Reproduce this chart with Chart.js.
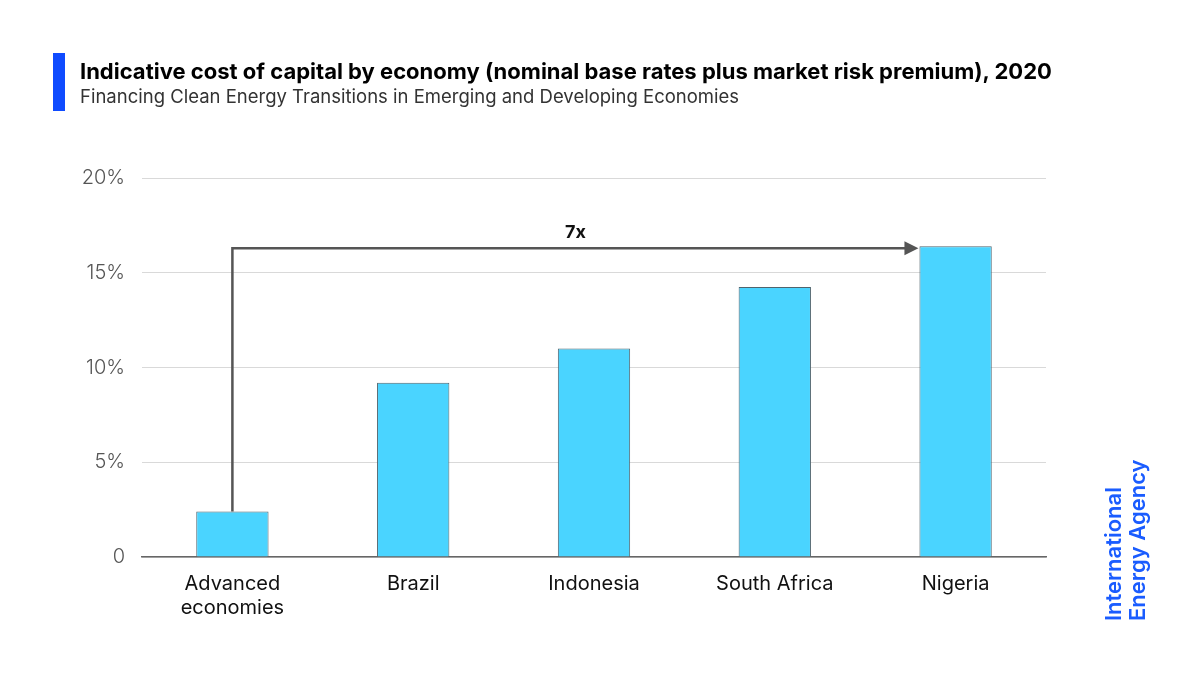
<!DOCTYPE html>
<html>
<head>
<meta charset="utf-8">
<script src="https://cdn.jsdelivr.net/npm/chart.js@4.4.1/dist/chart.umd.min.js"></script>
<style>
    html, body { margin: 0; padding: 0; background: #fff; }
    #wrap { position: relative; width: 1200px; height: 675px; overflow: hidden; }
    #chart { position: absolute; left: 0; top: 0; }
    .accent { position: absolute; left: 53px; top: 53px; width: 12px; height: 58px; background: #0f4bff; }
    .title { position: absolute; left: 80px; top: 58px; font: 700 22px 'Inter', sans-serif; color: #000; white-space: nowrap; }
    .subtitle { position: absolute; left: 80px; top: 85px; font: 400 18.5px 'Inter', sans-serif; color: #333; white-space: nowrap; }
    .logo { position: absolute; left: 1101px; top: 621px; transform: rotate(-90deg); transform-origin: 0 0;
            font: 600 22px 'Inter', sans-serif; color: #1a5cff; line-height: 24px; white-space: nowrap; }
</style>
</head>
<body>
<div id="wrap">
    <canvas id="chart" width="1200" height="675"></canvas>
    <div class="accent"></div>
    <div class="title">Indicative cost of capital by economy (nominal base rates plus market risk premium), 2020</div>
    <div class="subtitle">Financing Clean Energy Transitions in Emerging and Developing Economies</div>
    <div class="logo">International<br>Energy Agency</div>
</div>
<script>
// Chart data
const categories = [['Advanced', 'economies'], 'Brazil', 'Indonesia', 'South Africa', 'Nigeria'];
const costOfCapital = [2.4, 9.2, 11.0, 14.25, 16.4];
const yTicks = [0, 5, 10, 15, 20];
const arrowLabel = '7x';

/**
 * Draws the "7x" elbow arrow from the first bar to the last one
 */
const arrowPlugin = {
    id: 'ratioArrow',
    afterDatasetsDraw(chart) {
        const meta = chart.getDatasetMeta(0);
        const first = meta.data[0];
        const last = meta.data[meta.data.length - 1];
        const yScale = chart.scales.y;
        const ctx = chart.ctx;

        const lineY = yScale.getPixelForValue(costOfCapital[costOfCapital.length - 1]) + 2;
        const tipX = last.x - last.width / 2 - 1;

        ctx.save();
        ctx.strokeStyle = '#555555';
        ctx.fillStyle = '#555555';
        ctx.lineWidth = 2.5;
        ctx.beginPath();
        ctx.moveTo(first.x, first.y);
        ctx.lineTo(first.x, lineY);
        ctx.lineTo(tipX - 12, lineY);
        ctx.stroke();

        // arrow head
        ctx.beginPath();
        ctx.moveTo(tipX, lineY);
        ctx.lineTo(tipX - 14, lineY - 7);
        ctx.lineTo(tipX - 14, lineY + 7);
        ctx.closePath();
        ctx.fill();

        // label
        ctx.fillStyle = '#111111';
        ctx.font = "700 18px 'Inter', sans-serif";
        ctx.textAlign = 'center';
        ctx.textBaseline = 'bottom';
        ctx.fillText(arrowLabel, (first.x + tipX) / 2, lineY - 7);
        ctx.restore();
    }
};

document.addEventListener('DOMContentLoaded', () => {
    Chart.defaults.font.family = "'Inter', sans-serif";

    const ctx = document.getElementById('chart').getContext('2d');
    new Chart(ctx, {
        type: 'bar',
        data: {
            labels: categories,
            datasets: [{
                data: costOfCapital,
                backgroundColor: '#4ad4ff',
                borderColor: '#4f646e',
                borderWidth: 1,
                barPercentage: 0.4,
                categoryPercentage: 1.0
            }]
        },
        options: {
            responsive: false,
            animation: false,
            layout: { padding: { top: 178, right: 154, bottom: 0, left: 0 } },
            plugins: {
                legend: { display: false },
                tooltip: { enabled: false }
            },
            scales: {
                x: {
                    afterFit(scale) { scale.height = 118; },
                    grid: { display: false, drawTicks: false },
                    border: { display: true, color: '#666666', width: 1.5 },
                    ticks: {
                        padding: 15,
                        color: '#111111',
                        font: { size: 20 }
                    }
                },
                y: {
                    min: 0,
                    max: 20,
                    afterFit(scale) { scale.width = 142; },
                    afterBuildTicks(scale) {
                        scale.ticks = yTicks.map(v => ({ value: v }));
                    },
                    grid: { color: '#d9d9d9', lineWidth: 1, drawTicks: false },
                    border: { display: false },
                    ticks: {
                        padding: 17,
                        color: '#555555',
                        font: { size: 20, weight: 300 },
                        callback: v => (v === 0 ? '0' : v + '%')
                    }
                }
            }
        },
        plugins: [arrowPlugin]
    });
});
</script>
</body>
</html>
